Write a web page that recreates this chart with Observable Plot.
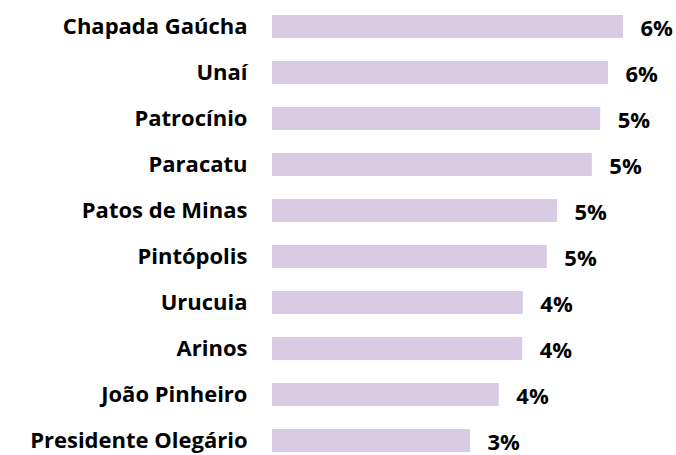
<!DOCTYPE html>
<html>
<head>
<meta charset="utf-8">
<script src="https://cdn.jsdelivr.net/npm/d3@7"></script>
<script src="https://cdn.jsdelivr.net/npm/@observablehq/plot@0.6"></script>
<style>
  html, body { margin: 0; padding: 0; background: #fff; overflow: hidden; }
  #chart svg { display: block; }
</style>
</head>
<body>
<div id="chart"></div>
<script>
const municipios = ["Chapada Gaúcha", "Unaí", "Patrocínio", "Paracatu", "Patos de Minas", "Pintópolis", "Urucuia", "Arinos", "João Pinheiro", "Presidente Olegário"];
const percentuais = [5.85, 5.6, 5.47, 5.33, 4.75, 4.58, 4.18, 4.17, 3.78, 3.3];

const data = municipios.map((m, i) => ({municipio: m, valor: percentuais[i]}));
const font = "'Open Sans', 'Noto Sans', sans-serif";

const chart = Plot.plot({
  width: 676,
  height: 455,
  marginLeft: 272,
  marginRight: 8,
  marginTop: 12,
  marginBottom: 0,
  style: {fontFamily: font, background: "#fff", overflow: "visible"},
  x: {domain: [0, 6.6], axis: null},
  y: {domain: municipios, padding: 0.5, paddingOuter: 0, axis: null},
  marks: [
    Plot.barX(data, {x: "valor", y: "municipio", fill: "#dacbe4"}),
    Plot.axisY({tickSize: 0, tickPadding: 25, fontSize: 22, fontWeight: "bold", fill: "#000", anchor: "left", label: null}),
    Plot.text(data, {x: "valor", y: "municipio", text: d => Math.round(d.valor) + "%", textAnchor: "start", dx: 17, dy: 2, fontSize: 22, fontWeight: "bold", fill: "#000"})
  ]
});
document.getElementById("chart").append(chart);
</script>
</body>
</html>
